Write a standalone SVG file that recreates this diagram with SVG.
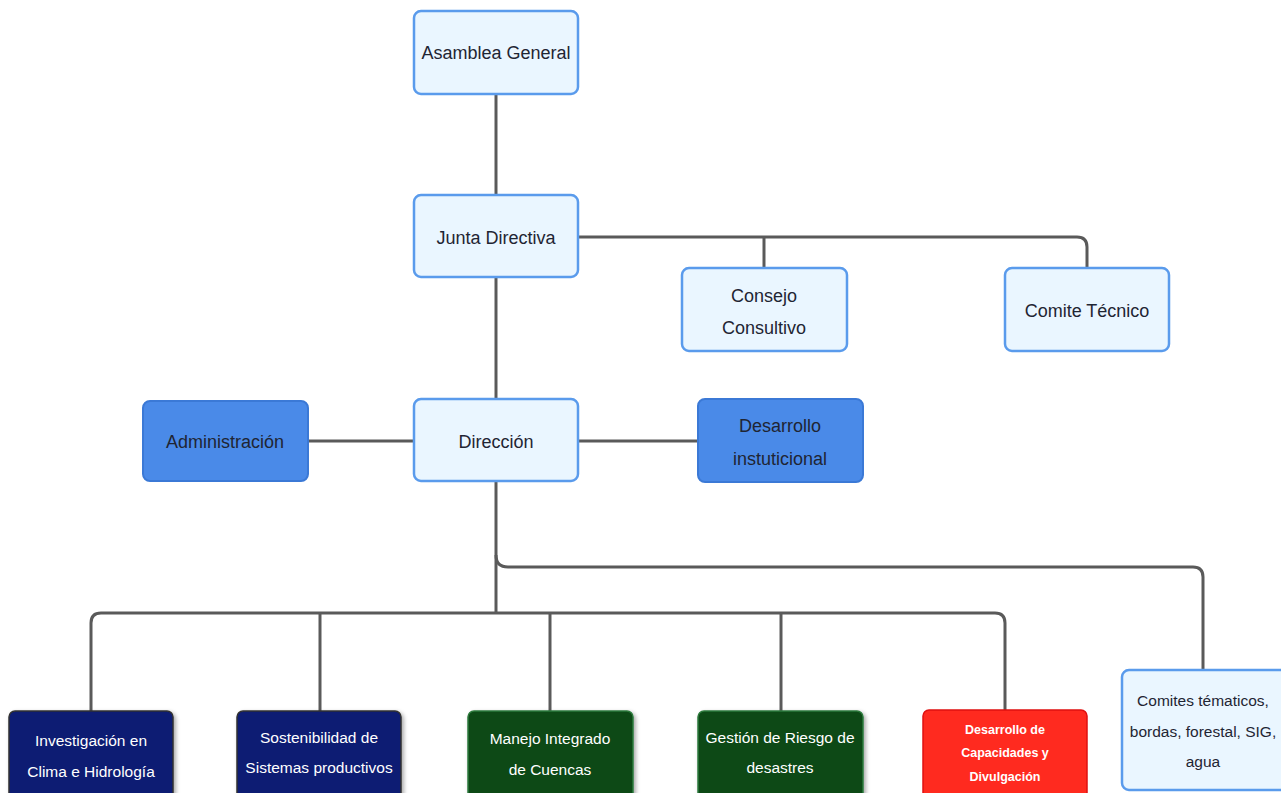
<svg xmlns="http://www.w3.org/2000/svg" width="1281" height="793" viewBox="0 0 1281 793">
<defs>
<filter id="sh" x="-10%" y="-10%" width="125%" height="130%"><feDropShadow dx="2" dy="2" stdDeviation="2" flood-color="#000" flood-opacity="0.35"/></filter>
</defs>
<style>
.light rect{fill:#eaf6ff;stroke:#5a9bec;stroke-width:2.5}
.mid rect{fill:#4a8ae8;stroke:#3b79d6;stroke-width:2}
.navy rect{fill:#0b1a73;stroke:#333;stroke-width:1.5;filter:url(#sh)}
.green rect{fill:#0a4a16;stroke:#2e7a3c;stroke-width:1.5;filter:url(#sh)}
.red rect{fill:#ff2a1f;stroke:#e01010;stroke-width:1.5}
text{font-family:"Liberation Sans","Noto Sans",sans-serif;font-size:18px;text-anchor:middle;fill:#1f2533}
.navy text,.green text,.red text{fill:#fff}
.navy text,.green text{font-size:15.5px}
.red text{font-size:12.5px;font-weight:bold}
.small text{font-size:15.5px}
#connectors path{fill:none;stroke:#5a5a5a;stroke-width:3}
</style>
<rect width="1281" height="793" fill="#fff"/>
<g id="connectors">
<path d="M496 94V195"/>
<path d="M496 277V399"/>
<path d="M578 237H1077Q1087 237 1087 247V268"/>
<path d="M764 237V268"/>
<path d="M308 441H414"/>
<path d="M578 441H698"/>
<path d="M496 481V613"/>
<path d="M496 555Q496 567 508 567H1193Q1203 567 1203 577V670"/>
<path d="M91 711V623Q91 613 101 613H995Q1005 613 1005 623V711"/>
<path d="M320 613V711"/>
<path d="M550 613V711"/>
<path d="M781 613V711"/>
</g>
<g id="asamblea" class="light"><rect x="414" y="11" width="164" height="83" rx="7"/><text x="496" y="59">Asamblea General</text></g>
<g id="junta" class="light"><rect x="414" y="195" width="164" height="82" rx="7"/><text x="496" y="244">Junta Directiva</text></g>
<g id="consejo" class="light"><rect x="682" y="268" width="165" height="83" rx="7"/><text x="764" y="302">Consejo</text><text x="764" y="334">Consultivo</text></g>
<g id="comite" class="light"><rect x="1005" y="268" width="164" height="83" rx="7"/><text x="1087" y="317">Comite Técnico</text></g>
<g id="administracion" class="mid"><rect x="143" y="401" width="165" height="80" rx="7"/><text x="225" y="448">Administración</text></g>
<g id="direccion" class="light"><rect x="414" y="399" width="164" height="82" rx="7"/><text x="496" y="448">Dirección</text></g>
<g id="desarrollo-inst" class="mid"><rect x="698" y="399" width="165" height="83" rx="7"/><text x="780" y="432">Desarrollo</text><text x="780" y="465">instuticional</text></g>
<g id="investigacion" class="navy"><rect x="9" y="711" width="164" height="90" rx="6"/><text x="91" y="746">Investigación en</text><text x="91" y="777">Clima e Hidrología</text></g>
<g id="sostenibilidad" class="navy"><rect x="237" y="711" width="164" height="90" rx="6"/><text x="319" y="743">Sostenibilidad de</text><text x="319" y="773">Sistemas productivos</text></g>
<g id="manejo" class="green"><rect x="468" y="711" width="165" height="90" rx="6"/><text x="550" y="744">Manejo Integrado</text><text x="550" y="775">de Cuencas</text></g>
<g id="gestion" class="green"><rect x="698" y="711" width="165" height="90" rx="6"/><text x="780" y="743">Gestión de Riesgo de</text><text x="780" y="773">desastres</text></g>
<g id="capacidades" class="red"><rect x="923" y="710" width="164" height="90" rx="6"/><text x="1005" y="734">Desarrollo de</text><text x="1005" y="757">Capacidades y</text><text x="1005" y="781">Divulgación</text></g>
<g id="comites-tematicos" class="light small"><rect x="1122" y="670" width="170" height="120" rx="7"/><text x="1203" y="706">Comites tématicos,</text><text x="1203" y="737">bordas, forestal, SIG,</text><text x="1203" y="767">agua</text></g>
</svg>
